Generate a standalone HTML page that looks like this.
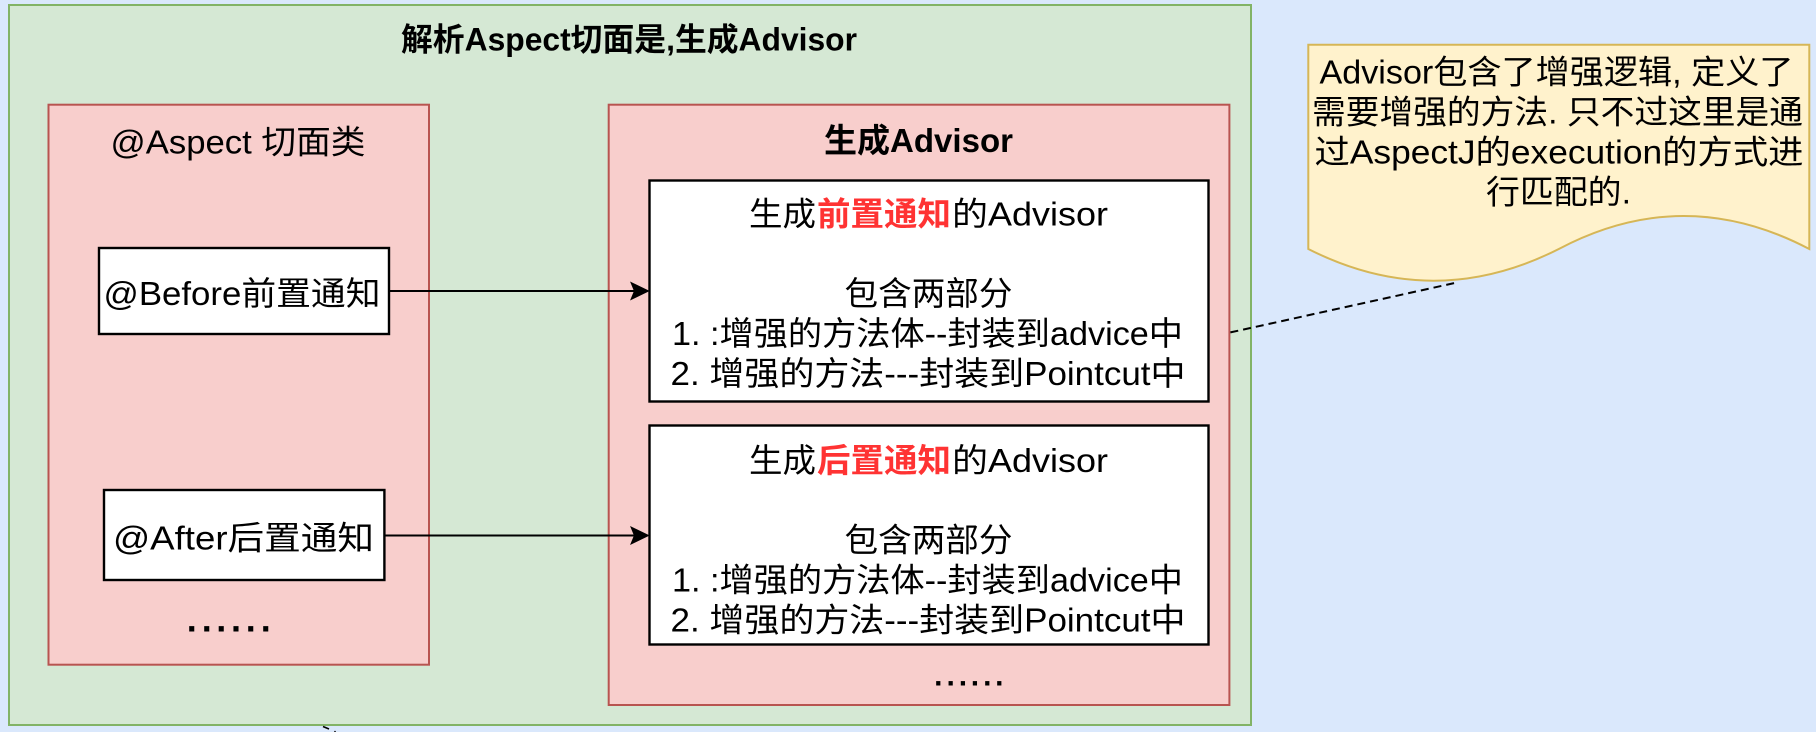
<!DOCTYPE html>
<html>
<head>
<meta charset="utf-8">
<style>
  html, body { margin: 0; padding: 0; background: #dae8fc; }
  svg { display: block; }
  text { font-family: "Liberation Sans", "Noto Sans CJK SC", sans-serif; fill: #000; }
  .b { font-weight: bold; }
  .red { fill: #ff3333; font-weight: bold; }
</style>
</head>
<body>
<svg width="1816" height="732" viewBox="0 0 1816 732" xmlns="http://www.w3.org/2000/svg">
  <rect x="0" y="0" width="1816" height="732" fill="#dae8fc"/>

  <!-- outer green container -->
  <rect x="9" y="5" width="1242" height="720" fill="#d5e8d4" stroke="#82b366" stroke-width="2"/>
  <text class="b" x="401" y="50.5" font-size="32" textLength="456" lengthAdjust="spacingAndGlyphs">解析Aspect切面是,生成Advisor</text>

  <!-- left pink -->
  <rect x="48.5" y="104.7" width="380.5" height="560" fill="#f8cecc" stroke="#b85450" stroke-width="2"/>
  <text x="110.5" y="153.7" font-size="33" textLength="255" lengthAdjust="spacingAndGlyphs">@Aspect 切面类</text>

  <!-- Before box -->
  <rect x="99" y="248" width="290" height="86" fill="#ffffff" stroke="#000" stroke-width="2.4"/>
  <text x="103.5" y="305" font-size="33" textLength="277" lengthAdjust="spacingAndGlyphs">@Before前置通知</text>

  <!-- After box -->
  <rect x="104" y="490" width="280.4" height="90" fill="#ffffff" stroke="#000" stroke-width="2.4"/>
  <text x="113" y="549.7" font-size="33" textLength="261" lengthAdjust="spacingAndGlyphs">@After后置通知</text>

  <!-- left dots -->
  <text class="b" font-size="36" y="631.6" x="186.7 201.7 216.3 231 245.7 260.7">......</text>

  <!-- right pink -->
  <rect x="608.7" y="104.7" width="620.7" height="600.3" fill="#f8cecc" stroke="#b85450" stroke-width="2"/>
  <text class="b" x="824" y="152" font-size="33" textLength="189" lengthAdjust="spacingAndGlyphs">生成Advisor</text>

  <!-- white box 1 -->
  <rect x="649.5" y="180.5" width="559" height="221" fill="#ffffff" stroke="#000" stroke-width="2.4"/>
  <text x="749" y="225.3" font-size="33" textLength="67" lengthAdjust="spacingAndGlyphs">生成</text>
  <text class="red" x="817" y="225.3" font-size="33" textLength="134" lengthAdjust="spacingAndGlyphs">前置通知</text>
  <text x="952" y="225.3" font-size="33" textLength="156" lengthAdjust="spacingAndGlyphs">的Advisor</text>
  <text x="844.5" y="305" font-size="33" textLength="168" lengthAdjust="spacingAndGlyphs">包含两部分</text>
  <text x="672" y="345" font-size="33" textLength="511" lengthAdjust="spacingAndGlyphs">1. :增强的方法体--封装到advice中</text>
  <text x="670.5" y="385" font-size="33" textLength="515" lengthAdjust="spacingAndGlyphs">2. 增强的方法---封装到Pointcut中</text>

  <!-- white box 2 -->
  <rect x="649.5" y="425.5" width="559" height="219" fill="#ffffff" stroke="#000" stroke-width="2.4"/>
  <text x="749" y="472" font-size="33" textLength="67" lengthAdjust="spacingAndGlyphs">生成</text>
  <text class="red" x="817" y="472" font-size="33" textLength="134" lengthAdjust="spacingAndGlyphs">后置通知</text>
  <text x="952" y="472" font-size="33" textLength="156" lengthAdjust="spacingAndGlyphs">的Advisor</text>
  <text x="844.5" y="551.7" font-size="33" textLength="168" lengthAdjust="spacingAndGlyphs">包含两部分</text>
  <text x="672" y="591.7" font-size="33" textLength="511" lengthAdjust="spacingAndGlyphs">1. :增强的方法体--封装到advice中</text>
  <text x="670.5" y="631.7" font-size="33" textLength="515" lengthAdjust="spacingAndGlyphs">2. 增强的方法---封装到Pointcut中</text>

  <!-- right dots -->
  <text class="b" font-size="30" y="685.3" x="934.1 946.5 958.8 970.8 983.1 995.1">......</text>

  <!-- arrows -->
  <line x1="389.4" y1="291" x2="636" y2="291" stroke="#000" stroke-width="2"/>
  <polygon points="648.5,291 631,282.5 634.5,291 631,299.5" fill="#000" stroke="#000" stroke-width="1"/>
  <line x1="384.4" y1="535.5" x2="636" y2="535.5" stroke="#000" stroke-width="2"/>
  <polygon points="648.5,535.5 631,527 634.5,535.5 631,544" fill="#000" stroke="#000" stroke-width="1"/>

  <!-- note -->
  <path d="M1308.3,44.7 L1809.3,44.7 L1809.3,249 Q1683.5,183 1558.8,249 Q1433.5,312.4 1308.3,249 Z" fill="#fff2cc" stroke="#d6b656" stroke-width="2"/>
  <text x="1319.5" y="83.7" font-size="33" textLength="474" lengthAdjust="spacingAndGlyphs">Advisor包含了增强逻辑, 定义了</text>
  <text x="1312" y="123.7" font-size="33" textLength="491" lengthAdjust="spacingAndGlyphs">需要增强的方法. 只不过这里是通</text>
  <text x="1314.5" y="163.7" font-size="33" textLength="489" lengthAdjust="spacingAndGlyphs">过AspectJ的execution的方式进</text>
  <text x="1486" y="203.7" font-size="33" textLength="145" lengthAdjust="spacingAndGlyphs">行匹配的.</text>

  <!-- dashed connector -->
  <line x1="1230.4" y1="332.4" x2="1457" y2="282.5" stroke="#000" stroke-width="2" stroke-dasharray="8 5"/>

  <!-- small mark at bottom -->
  <line x1="323" y1="726.5" x2="329" y2="729" stroke="#000" stroke-width="1.6"/>
  <circle cx="335" cy="731.5" r="0.8" fill="#000"/>
</svg>
</body>
</html>
